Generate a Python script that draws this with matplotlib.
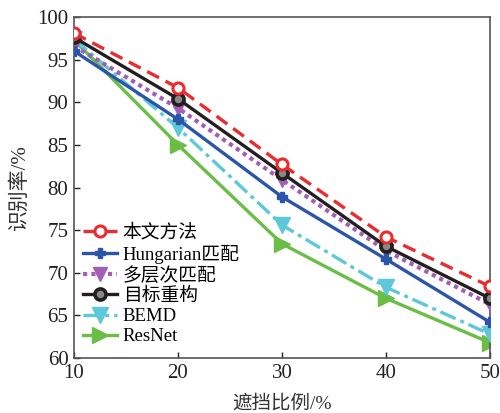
import matplotlib
matplotlib.use("Agg")
import matplotlib.pyplot as plt

plt.rcParams['font.family'] = ['Liberation Serif', 'Noto Sans CJK SC']
plt.rcParams['mathtext.fontset'] = 'stix'

x = [10, 20, 30, 40, 50]
ours = [98.1, 91.7, 82.7, 74.2, 68.4]
hungarian = [96.0, 88.0, 78.9, 71.6, 64.2]
multilevel = [96.6, 89.3, 80.9, 72.6, 66.3]
recon = [97.6, 90.4, 81.7, 73.1, 67.0]
bemd = [97.4, 87.0, 75.6, 68.3, 62.8]
resnet = [97.3, 85.0, 73.4, 67.0, 61.8]
labels = ['本文方法', 'Hungarian匹配', '多层次匹配', '目标重构', 'BEMD', 'ResNet']
xticks = [10, 20, 30, 40, 50]
yticks = [60, 65, 70, 75, 80, 85, 90, 95, 100]

fig = plt.figure(figsize=(5.0, 4.13), dpi=100)
ax = fig.add_axes([0.148, 0.133, 0.832, 0.826])

lw = 2.4
ax.plot(x, ours, color='#EC2B2F', ls=(0, (4, 2.2)), lw=lw, marker='o', ms=8,
        mfc='white', mec='#EC2B2F', mew=2.2, label=labels[0], zorder=7)
ax.plot(x, hungarian, color='#2B55A8', ls='-', lw=lw, marker='P', ms=7,
        mfc='#2B55A8', mec='#2B55A8', label=labels[1], zorder=5)
ax.plot(x, multilevel, color='#A35DB5', ls=(0, (1, 1)), lw=lw + 0.6, marker='v', ms=10,
        mfc='#A35DB5', mec='#A35DB5', label=labels[2], zorder=4)
ax.plot(x, recon, color='#231F20', ls='-', lw=lw, marker='o', ms=8,
        mfc='#888888', mec='#231F20', mew=2.6, label=labels[3], zorder=6)
ax.plot(x, bemd, color='#5DC8D8', ls=(0, (5, 1.5, 1.2, 1.5)), lw=lw, marker='v', ms=11,
        mfc='#5DC8D8', mec='#5DC8D8', label=labels[4], zorder=3)
ax.plot(x, resnet, color='#6BBE45', ls='-', lw=lw, marker='>', ms=11,
        mfc='#6BBE45', mec='#6BBE45', label=labels[5], zorder=2)

ax.set_xlim(10, 50)
ax.set_ylim(60, 100)
ax.set_xticks(xticks)
ax.set_yticks(yticks)
ax.tick_params(direction='in', length=4, width=1, labelsize=15, colors='#222222', pad=4)
for s in ax.spines.values():
    s.set_color('#555555')
    s.set_linewidth(1.2)

ax.set_xlabel('遮挡比例/%', fontsize=14, color='#333333', labelpad=9)
ax.set_ylabel('识别率/%', fontsize=15, color='#333333', labelpad=5)

leg = ax.legend(loc='lower left', frameon=False, fontsize=13.5, handlelength=1.8,
                handletextpad=0.3, labelspacing=0.16, borderaxespad=0.1,
                bbox_to_anchor=(0.0, 0.01))

fig.savefig('out.png', dpi=100)
